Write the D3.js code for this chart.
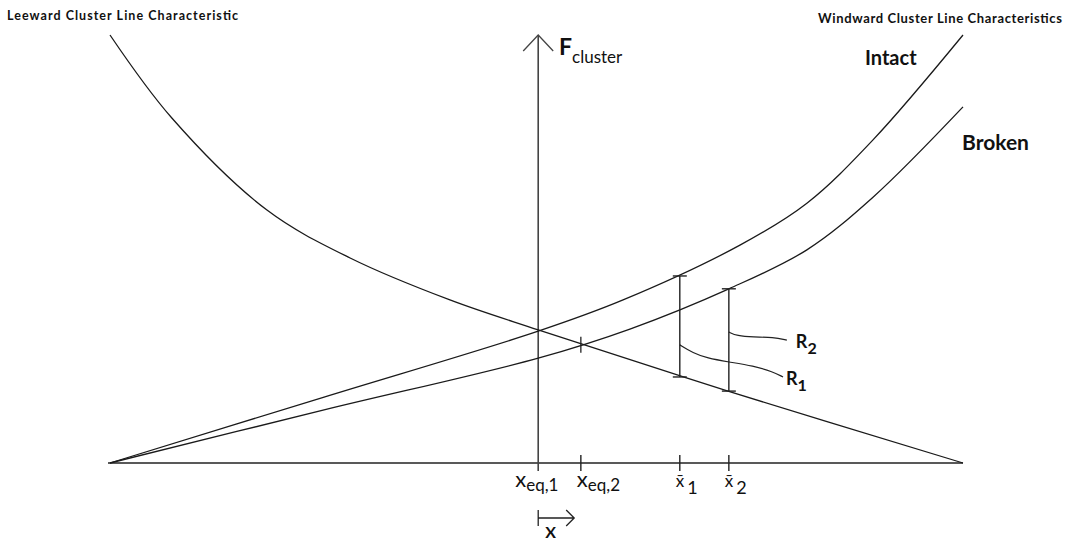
<!DOCTYPE html>
<html>
<head>
<meta charset="utf-8">
<script src="https://cdn.jsdelivr.net/npm/d3@7"></script>
<style>
  body { margin: 0; background: #fff; }
  text { font-family: Lato, "Open Sans", sans-serif; fill: #111; }
</style>
</head>
<body>
<svg id="chart" width="1065" height="542"></svg>
<script>
var width = 1065,
    height = 542;

// characteristic curves, [displacement, cluster force] in arbitrary units
var leeward = [[-10, 100], [-8.55, 80.6], [-6.32, 59.1], [-4.37, 47.9],
  [-2.03, 38.1], [0.04, 31.1], [4.49, 16.8], [10, 0]];

var intact = [[-10, 0], [-4.98, 15.4], [0.04, 30.8], [2.03, 38.1], [4.77, 50.9],
  [6.34, 60.7], [7.89, 75.5], [10, 100]];

var broken = [[-10, 0], [-4.98, 12.4], [0.04, 24.5], [2.19, 31.3], [4.51, 40.7],
  [6.34, 49.8], [7.89, 62.1], [10, 83.2]];

// marked positions on the displacement axis
var markerX = [0.04, 1.04, 3.36, 4.51];
var markerSub = ["eq,1", "eq,2", "1", "2"];

// resistance ranges R1, R2
var rangeX = [3.36, 4.51];
var rangeTop = [43.7, 40.7];
var rangeBottom = [20.1, 16.8];
var rangeNames = ["1", "2"];

// leader lines to the R labels
var leaderR1 = [[3.36, 27.6], [3.67, 25.7], [4.0, 24.5], [4.51, 23.6], [5.08, 22.7], [5.55, 21.3], [5.78, 20.1]];
var leaderR2 = [[4.51, 30.6], [4.7, 29.7], [5.08, 29.4], [5.55, 29.4], [5.87, 28.7]];

var x = d3.scaleLinear()
    .domain([-10, 10])
    .range([110, 963]);

var y = d3.scaleLinear()
    .domain([0, 100])
    .range([463, 35]);

var line = d3.line()
    .x(d => x(d[0]))
    .y(d => y(d[1]))
    .curve(d3.curveCatmullRom.alpha(0.5));

var leader = d3.line()
    .x(d => x(d[0]))
    .y(d => y(d[1]))
    .curve(d3.curveBasis);

var svg = d3.select("#chart");

// baseline
svg.append("line")
    .attr("x1", x(-10) - 2).attr("x2", x(10))
    .attr("y1", y(0)).attr("y2", y(0))
    .attr("stroke", "#222").attr("stroke-width", 1.6);

// force axis with arrow
var ax = x(markerX[0]);
svg.append("line")
    .attr("x1", ax).attr("x2", ax)
    .attr("y1", y(0) + 8).attr("y2", y(100))
    .attr("stroke", "#444").attr("stroke-width", 1.6);
svg.append("path")
    .attr("d", `M${ax - 15},${y(100) + 16} L${ax},${y(100)} L${ax + 15},${y(100) + 16}`)
    .attr("fill", "none").attr("stroke", "#444").attr("stroke-width", 1.3);

// curves
svg.selectAll(".curve")
    .data([leeward, intact, broken])
  .enter().append("path")
    .attr("class", "curve")
    .attr("d", line)
    .attr("fill", "none")
    .attr("stroke", "#1a1a1a")
    .attr("stroke-width", 1.3);

// ticks on baseline
svg.selectAll(".tick")
    .data(markerX.slice(1))
  .enter().append("line")
    .attr("class", "tick")
    .attr("x1", d => x(d)).attr("x2", d => x(d))
    .attr("y1", y(0) - 8).attr("y2", y(0) + 8)
    .attr("stroke", "#222").attr("stroke-width", 1.4);

// tick at second equilibrium
svg.append("line")
    .attr("x1", x(markerX[1])).attr("x2", x(markerX[1]))
    .attr("y1", y(27.6) - 8).attr("y2", y(27.6) + 8)
    .attr("stroke", "#222").attr("stroke-width", 1.3);

// marker labels
var labelDx = [-23, -4, -4, -4];
markerX.forEach(function(m, i) {
  var t = svg.append("text")
      .attr("x", x(m) + labelDx[i])
      .attr("y", 487);
  if (i < 2) {
    t.append("tspan").attr("font-size", 22).text("x");
    t.append("tspan").attr("font-size", 17).attr("dy", 4).text(markerSub[i]);
  } else {
    t.append("tspan").attr("font-size", 17).text("x\u0304");
    t.append("tspan").attr("font-size", 18).attr("dx", 3).attr("dy", 7).text(markerSub[i]);
  }
});

// range bars
rangeX.forEach(function(r, i) {
  var g = svg.append("g").attr("stroke", "#222").attr("stroke-width", 1.4);
  g.append("line")
      .attr("x1", x(r)).attr("x2", x(r))
      .attr("y1", y(rangeTop[i])).attr("y2", y(rangeBottom[i]));
  [rangeTop[i], rangeBottom[i]].forEach(function(v) {
    g.append("line")
        .attr("x1", x(r) - 7).attr("x2", x(r) + 7)
        .attr("y1", y(v)).attr("y2", y(v));
  });
});

svg.selectAll(".leader")
    .data([leaderR1, leaderR2])
  .enter().append("path")
    .attr("class", "leader")
    .attr("d", leader)
    .attr("fill", "none")
    .attr("stroke", "#222")
    .attr("stroke-width", 1.2);

// R labels
[[leaderR1, 0], [leaderR2, 1]].forEach(function(p) {
  var end = p[0][p[0].length - 1];
  var t = svg.append("text")
      .attr("x", x(end[0]) + 3 + (p[1] ? 6 : 0))
      .attr("y", y(end[1]) + 8)
      .attr("font-weight", "bold");
  t.append("tspan").attr("font-size", 18).text("R");
  t.append("tspan").attr("font-size", 16).attr("dy", 6).text(rangeNames[p[1]]);
});

// force axis label
var fl = svg.append("text").attr("x", 559).attr("y", 55).attr("font-weight", "bold");
fl.append("tspan").attr("font-size", 23).text("F");
fl.append("tspan").attr("font-size", 17).attr("font-weight", "normal").attr("dy", 8).text("cluster");

// displacement direction arrow
svg.append("path")
    .attr("d", `M${ax},510 L${ax},526 M${ax},518 L${ax + 36},518 M${ax + 28},510 L${ax + 36},518 L${ax + 28},526`)
    .attr("fill", "none").attr("stroke", "#222").attr("stroke-width", 1.3);
svg.append("text")
    .attr("x", ax + 7).attr("y", 538)
    .attr("font-size", 16).attr("font-weight", "bold")
    .text("X");

// titles and curve names
svg.append("text").attr("x", 7).attr("y", 20)
    .attr("font-size", 12.5).attr("font-weight", "bold")
    .attr("textLength", 231).attr("lengthAdjust", "spacing")
    .text("Leeward Cluster Line Characteristic");
svg.append("text").attr("x", 818).attr("y", 23)
    .attr("font-size", 13).attr("font-weight", "bold")
    .attr("textLength", 244).attr("lengthAdjust", "spacing")
    .text("Windward Cluster Line Characteristics");
svg.append("text").attr("x", 865).attr("y", 65)
    .attr("font-size", 20).attr("font-weight", "bold")
    .text("Intact");
svg.append("text").attr("x", 962).attr("y", 150)
    .attr("font-size", 21).attr("font-weight", "bold")
    .text("Broken");
</script>
</body>
</html>
